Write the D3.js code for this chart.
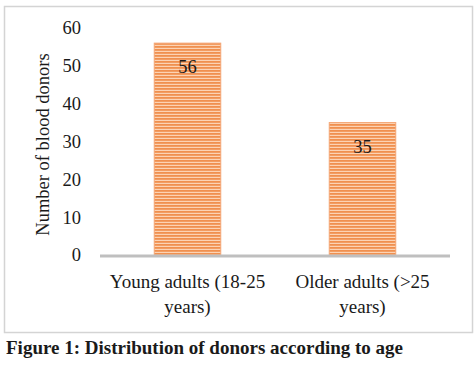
<!DOCTYPE html>
<html>
<head>
<meta charset="utf-8">
<script src="https://cdn.jsdelivr.net/npm/d3@7"></script>
<style>
  body { margin: 0; background: #fff; }
  svg { display: block; }
</style>
</head>
<body>
<div id="chart"></div>
<script>
// data
const categories = ["Young adults (18-25 years)", "Older adults (>25 years)"];
const labelLines = [["Young adults (18-25", "years)"], ["Older adults (>25", "years)"]];
const donors = [56, 35];
const yTicks = [0, 10, 20, 30, 40, 50, 60];

const FRAME_WIDTH = 476;
const FRAME_HEIGHT = 365;
const MARGINS = {left: 100, right: 26, top: 28, bottom: 110};
const VIS_WIDTH = FRAME_WIDTH - MARGINS.left - MARGINS.right;
const VIS_HEIGHT = FRAME_HEIGHT - MARGINS.top - MARGINS.bottom;
const FONT = "'Liberation Serif', 'DejaVu Serif', serif";

const svg = d3.select("#chart")
  .append("svg")
    .attr("width", FRAME_WIDTH)
    .attr("height", FRAME_HEIGHT);

// striped fill
const defs = svg.append("defs");
const pat = defs.append("pattern")
    .attr("id", "stripes")
    .attr("patternUnits", "userSpaceOnUse")
    .attr("width", 6)
    .attr("height", 3);
pat.append("rect").attr("width", 6).attr("height", 3).attr("fill", "#fcd3b4");
pat.append("rect").attr("width", 6).attr("height", 1.8).attr("fill", "#f0904f");

// outer frame
svg.append("rect")
    .attr("x", 4.5).attr("y", 6.5)
    .attr("width", 468).attr("height", 326)
    .attr("fill", "none")
    .attr("stroke", "#d4d4d4")
    .attr("stroke-width", 1.5);

const g = svg.append("g")
    .attr("transform", "translate(" + MARGINS.left + "," + MARGINS.top + ")");

const X_SCALE = d3.scaleBand()
    .domain(categories)
    .range([0, VIS_WIDTH])
    .paddingInner(0.62)
    .paddingOuter(0.31);

const Y_SCALE = d3.scaleLinear()
    .domain([0, 60])
    .range([VIS_HEIGHT, 0]);

// bars
g.selectAll(".bar")
  .data(donors)
  .enter().append("rect")
    .attr("class", "bar")
    .attr("x", (d, i) => X_SCALE(categories[i]))
    .attr("y", d => Y_SCALE(d))
    .attr("width", X_SCALE.bandwidth())
    .attr("height", d => VIS_HEIGHT - Y_SCALE(d))
    .attr("fill", "url(#stripes)")
    .attr("stroke", "#f4a676")
    .attr("stroke-width", 1);

// value labels
g.selectAll(".val")
  .data(donors)
  .enter().append("text")
    .attr("x", (d, i) => X_SCALE(categories[i]) + X_SCALE.bandwidth() / 2)
    .attr("y", d => Y_SCALE(d) + 30)
    .attr("text-anchor", "middle")
    .attr("font-family", FONT)
    .attr("font-size", 18.5)
    .attr("fill", "#1a1a1a")
    .text(d => d);

// y axis (labels only)
const yAxis = g.append("g")
    .call(d3.axisLeft(Y_SCALE).tickValues(yTicks).tickSize(0).tickPadding(19));
yAxis.select(".domain").remove();
yAxis.selectAll("text")
    .attr("font-family", FONT)
    .attr("font-size", 18.5)
    .attr("fill", "#1a1a1a");

// x baseline
g.append("line")
    .attr("x1", 0).attr("x2", VIS_WIDTH)
    .attr("y1", VIS_HEIGHT + 1).attr("y2", VIS_HEIGHT + 1)
    .attr("stroke", "#bfbfbf")
    .attr("stroke-width", 3);

// category labels
const xl = g.selectAll(".xlab")
  .data(categories)
  .enter().append("text")
    .attr("text-anchor", "middle")
    .attr("font-family", FONT)
    .attr("font-size", 19)
    .attr("fill", "#1a1a1a");
xl.selectAll("tspan")
  .data((d, i) => labelLines[i].map(t => ({t: t, c: d})))
  .enter().append("tspan")
    .attr("x", d => X_SCALE(d.c) + X_SCALE.bandwidth() / 2)
    .attr("y", (d, j) => VIS_HEIGHT + 33 + j * 25)
    .text(d => d.t);

// y axis title
svg.append("text")
    .attr("transform", "translate(49," + (MARGINS.top + VIS_HEIGHT / 2 + 3) + ") rotate(-90)")
    .attr("text-anchor", "middle")
    .attr("font-family", FONT)
    .attr("font-size", 18.5)
    .attr("fill", "#1a1a1a")
    .text("Number of blood donors");

// caption
svg.append("text")
    .attr("x", 6)
    .attr("y", 354)
    .attr("font-family", FONT)
    .attr("font-size", 19)
    .attr("font-weight", "bold")
    .attr("fill", "#1a1a1a")
    .text("Figure 1: Distribution of donors according to age");
</script>
</body>
</html>
